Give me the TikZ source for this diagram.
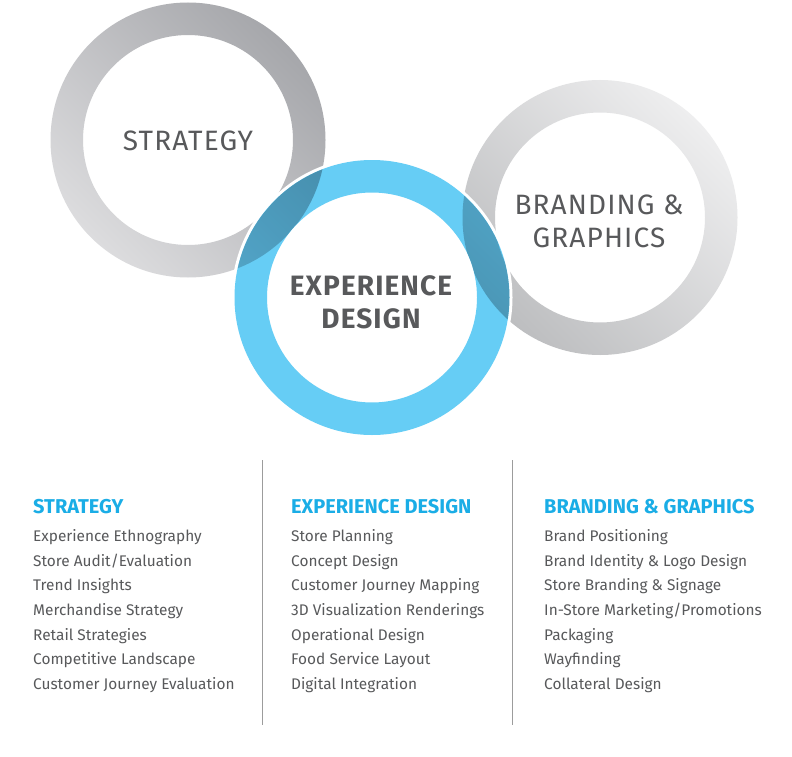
\documentclass[tikz,border=0pt]{standalone}
\usepackage{fontspec}
\setmainfont{Fira Sans}
\newfontfamily\ringfont{Fira Sans}[LetterSpace=4]
\definecolor{ringblue}{HTML}{66CDF5}
\definecolor{headblue}{HTML}{1AADE6}
\definecolor{txtgray}{HTML}{58595B}
\definecolor{linegray}{HTML}{9C9C9C}
\definecolor{sdark}{HTML}{A6A7AB}
\definecolor{slight}{HTML}{DCDCDE}
\definecolor{bdark}{HTML}{BDBEC0}
\definecolor{blight}{HTML}{EEEEEF}
\tikzset{
  ringlabel/.style={text=txtgray, font=\ringfont\fontsize{28}{33}\selectfont, align=center, inner sep=0pt},
  boldlabel/.style={text=txtgray, font=\ringfont\fontsize{28}{33.3}\selectfont\bfseries, align=center, inner sep=0pt},
  colhead/.style={text=headblue, font=\fontsize{20}{24}\selectfont\bfseries, anchor=base west, inner sep=0pt},
  colitems/.style={text=txtgray, font=\fontsize{15.4}{24.7}\selectfont, anchor=base west, align=left, inner sep=0pt},
  divider/.style={draw=linegray, line width=0.9pt}
}
\begin{document}
\begin{tikzpicture}[x=1pt,y=-1pt]
\useasboundingbox (0,0) rectangle (792,757);
\fill[white] (0,0) rectangle (792,757);
\coordinate (s) at (188,140);
\coordinate (e) at (372,297.5);
\coordinate (b) at (600,217.5);
% gray rings
\shade[even odd rule, top color=sdark, bottom color=slight, shading angle=-45]
  (s) circle (137.5pt) (s) circle (105pt);
\shade[even odd rule, top color=blight, bottom color=bdark, shading angle=-45]
  (b) circle (137.5pt) (b) circle (105pt);
% blue ring
\draw[white, line width=3pt] (e) circle (139pt);
\fill[white] (e) circle (105pt);
\begin{scope}[blend mode=multiply]
\fill[ringblue, even odd rule] (e) circle (137.5pt) (e) circle (105pt);
\end{scope}
% ring labels
\node[ringlabel, anchor=base] (strat) at (188,150) {STRATEGY};
\node[ringlabel, anchor=base] (brand) at (599,247) {BRANDING \&\\GRAPHICS};
\node[boldlabel, anchor=base] (exp) at (371,328.3) {EXPERIENCE\\DESIGN};
% dividers
\coordinate (d1t) at (262,460); \coordinate (d1b) at (262,725);
\coordinate (d2t) at (512,460); \coordinate (d2b) at (512,725);
\draw[divider] (d1t) -- (d1b);
\draw[divider] (d2t) -- (d2b);
% columns
\node[colhead] (h1) at (33,513.3) {STRATEGY};
\node[colhead] (h2) at (291,513.3) {EXPERIENCE DESIGN};
\node[colhead] (h3) at (544,513.3) {BRANDING \& GRAPHICS};
\node[colitems] (c1) at (33,689.5) {Experience Ethnography\\Store Audit/Evaluation\\Trend Insights\\Merchandise Strategy\\Retail Strategies\\Competitive Landscape\\Customer Journey Evaluation};
\node[colitems] (c2) at (291,689.5) {Store Planning\\Concept Design\\Customer Journey Mapping\\3D Visualization Renderings\\Operational Design\\Food Service Layout\\Digital Integration};
\node[colitems] (c3) at (544,689.5) {Brand Positioning\\Brand Identity \& Logo Design\\Store Branding \& Signage\\In-Store Marketing/Promotions\\Packaging\\Wayfinding\\Collateral Design};
\end{tikzpicture}
\end{document}
